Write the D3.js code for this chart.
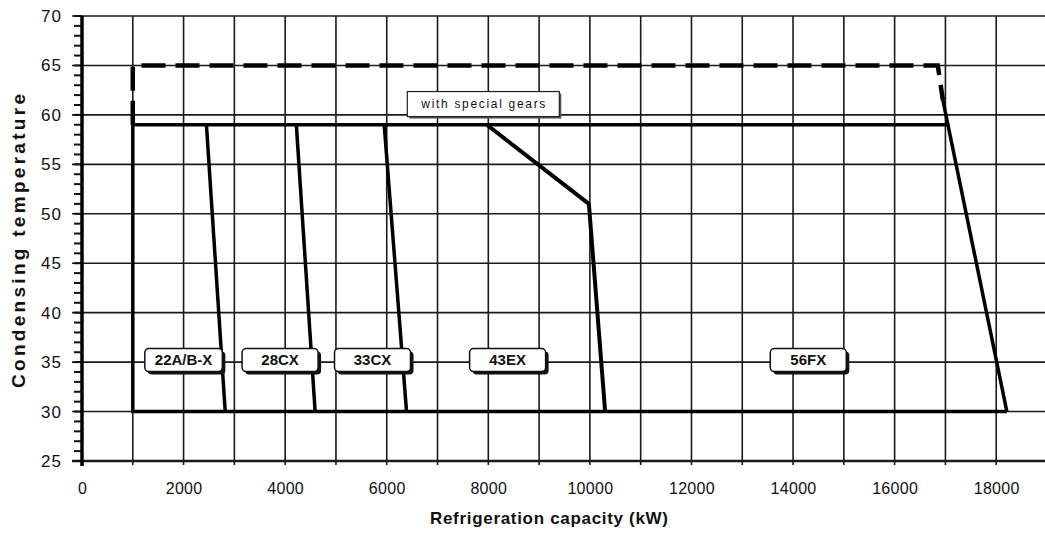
<!DOCTYPE html>
<html>
<head>
<meta charset="utf-8">
<script src="https://cdn.jsdelivr.net/npm/d3@7/dist/d3.min.js"></script>
<style>
  html, body { margin: 0; padding: 0; background: #fff; }
  svg { display: block; }
  text { font-family: "Liberation Sans", Arial, sans-serif; fill: #111; }
</style>
</head>
<body>
<svg id="chart" width="1045" height="536"></svg>
<script>
// ---- data ----
const yTickValues = [25, 30, 35, 40, 45, 50, 55, 60, 65, 70];
const xTickValues = [0, 2000, 4000, 6000, 8000, 10000, 12000, 14000, 16000, 18000];
const xTitle = "Refrigeration capacity (kW)";
const yTitle = "Condensing temperature";

// operating envelope (solid outline)
const envelope = [[18210, 30], [1000, 30], [1000, 59], [17050, 59]];
// extended envelope with special gears (dashed)
const specialGears = [[1000, 59], [1000, 65], [16850, 65], [16950, 61.5]];
const specialGearsLabel = "with special gears";
const specialGearsLabelPos = [8000, 61.5];

// model capacity limits
const models = ["22A/B-X", "28CX", "33CX", "43EX", "56FX"];
const limit22 = [[2450, 59], [2820, 30]];
const limit28 = [[4220, 59], [4590, 30]];
const limit33 = [[5950, 59], [6390, 30]];
const limit43 = [[7970, 59], [9980, 51], [10300, 30]];
const limit56 = [[16950, 61.5], [18210, 30]];
const modelLimits = [limit22, limit28, limit33, limit43, limit56];
const modelLabelX = [2000, 3900, 5720, 8380, 14300];
const modelLabelY = 35;

// ---- chart ----
const svg = d3.select("#chart");
const x = d3.scaleLinear().domain([0, 19000]).range([82, 1047]);
const y = d3.scaleLinear().domain([25, 70]).range([461, 16]);
const line = d3.line().x(d => x(d[0])).y(d => y(d[1]));

const grid = svg.append("g");
// vertical grid every 1000
d3.range(1000, 19001, 1000).forEach(v => {
  grid.append("line")
    .attr("x1", x(v)).attr("x2", x(v))
    .attr("y1", y(70)).attr("y2", y(25) + 4)
    .attr("stroke", "#1a1a1a").attr("stroke-width", 1.6);
});
// horizontal grid every 5
yTickValues.forEach(v => {
  grid.append("line")
    .attr("x1", x(0) - 10).attr("x2", 1045)
    .attr("y1", y(v)).attr("y2", y(v))
    .attr("stroke", "#1a1a1a").attr("stroke-width", v === 25 ? 2.5 : 1.6);
});
// y minor ticks every 1
d3.range(25, 71, 1).forEach(v => {
  grid.append("line")
    .attr("x1", x(0) - 8).attr("x2", x(0))
    .attr("y1", y(v)).attr("y2", y(v))
    .attr("stroke", "#111").attr("stroke-width", 2);
});
// y axis line
svg.append("line")
  .attr("x1", x(0)).attr("x2", x(0))
  .attr("y1", y(70)).attr("y2", y(25) + 5)
  .attr("stroke", "#000").attr("stroke-width", 3.5);

// tick labels
const yAxis = d3.axisLeft(y).tickValues(yTickValues).tickSize(0).tickPadding(20);
const gy = svg.append("g").attr("transform", `translate(${x(0)},0)`).call(yAxis);
gy.select(".domain").remove();
gy.selectAll("text")
  .style("font-family", '"Liberation Sans", Arial, sans-serif')
  .style("font-size", "17px").style("letter-spacing", "1px").attr("fill", "#111");

const xAxis = d3.axisBottom(x).tickValues(xTickValues).tickFormat(d3.format("d")).tickSize(0).tickPadding(22);
const gx = svg.append("g").attr("transform", `translate(0,${y(25)})`).call(xAxis);
gx.select(".domain").remove();
gx.selectAll("text")
  .style("font-family", '"Liberation Sans", Arial, sans-serif')
  .style("font-size", "16px").style("letter-spacing", "0.3px").attr("fill", "#111");

// axis titles
svg.append("text")
  .attr("x", 549).attr("y", 524)
  .attr("text-anchor", "middle")
  .attr("textLength", 238).attr("lengthAdjust", "spacing")
  .style("font-size", "17px").style("font-weight", "bold")
  .text(xTitle);
svg.append("text")
  .attr("transform", "translate(25,241) rotate(-90)")
  .attr("text-anchor", "middle")
  .attr("textLength", 294).attr("lengthAdjust", "spacing")
  .style("font-size", "19px").style("font-weight", "bold")
  .text(yTitle);

// dashed special gears envelope
svg.append("path")
  .attr("d", line(specialGears))
  .attr("fill", "none").attr("stroke", "#000")
  .attr("stroke-width", 4.5).attr("stroke-dasharray", "24 10");

// solid envelope
svg.append("path")
  .attr("d", line(envelope))
  .attr("fill", "none").attr("stroke", "#000")
  .attr("stroke-width", 3.5).attr("stroke-linejoin", "miter");

// model limits
modelLimits.forEach((pts, i) => {
  svg.append("path")
    .attr("d", line(pts))
    .attr("fill", "none").attr("stroke", "#000")
    .attr("stroke-width", i === 3 ? 4 : 3.5)
    .attr("stroke-linejoin", "round");
});

// special gears label
{
  const g = svg.append("g");
  const cx = x(specialGearsLabelPos[0]) - 5, cy = y(specialGearsLabelPos[1]) + 4;
  const w = 152, h = 25;
  g.append("rect").attr("x", cx - w / 2 + 2).attr("y", cy - h / 2 + 2)
    .attr("width", w).attr("height", h).attr("fill", "#555");
  g.append("rect").attr("x", cx - w / 2).attr("y", cy - h / 2)
    .attr("width", w).attr("height", h)
    .attr("fill", "#fff").attr("stroke", "#222").attr("stroke-width", 1.2);
  g.append("text").attr("x", cx).attr("y", cy + 4)
    .attr("text-anchor", "middle")
    .attr("textLength", 124).attr("lengthAdjust", "spacing")
    .style("font-size", "12px").text(specialGearsLabel);
}

// model labels
models.forEach((m, i) => {
  const g = svg.append("g");
  const cx = x(modelLabelX[i]), cy = y(modelLabelY) - 2;
  const t = g.append("text").attr("x", cx).attr("y", cy + 5)
    .attr("text-anchor", "middle")
    .style("font-size", "15px").style("font-weight", "bold")
    .text(m);
  const tw = t.node().getComputedTextLength();
  const w = Math.max(tw + 20, 76), h = 23;
  g.insert("rect", "text").attr("x", cx - w / 2 + 3).attr("y", cy - h / 2 + 3)
    .attr("width", w).attr("height", h).attr("rx", 4).attr("fill", "#111");
  g.insert("rect", "text").attr("x", cx - w / 2).attr("y", cy - h / 2)
    .attr("width", w).attr("height", h).attr("rx", 4)
    .attr("fill", "#fff").attr("stroke", "#111").attr("stroke-width", 1.5);
});
</script>
</body>
</html>
